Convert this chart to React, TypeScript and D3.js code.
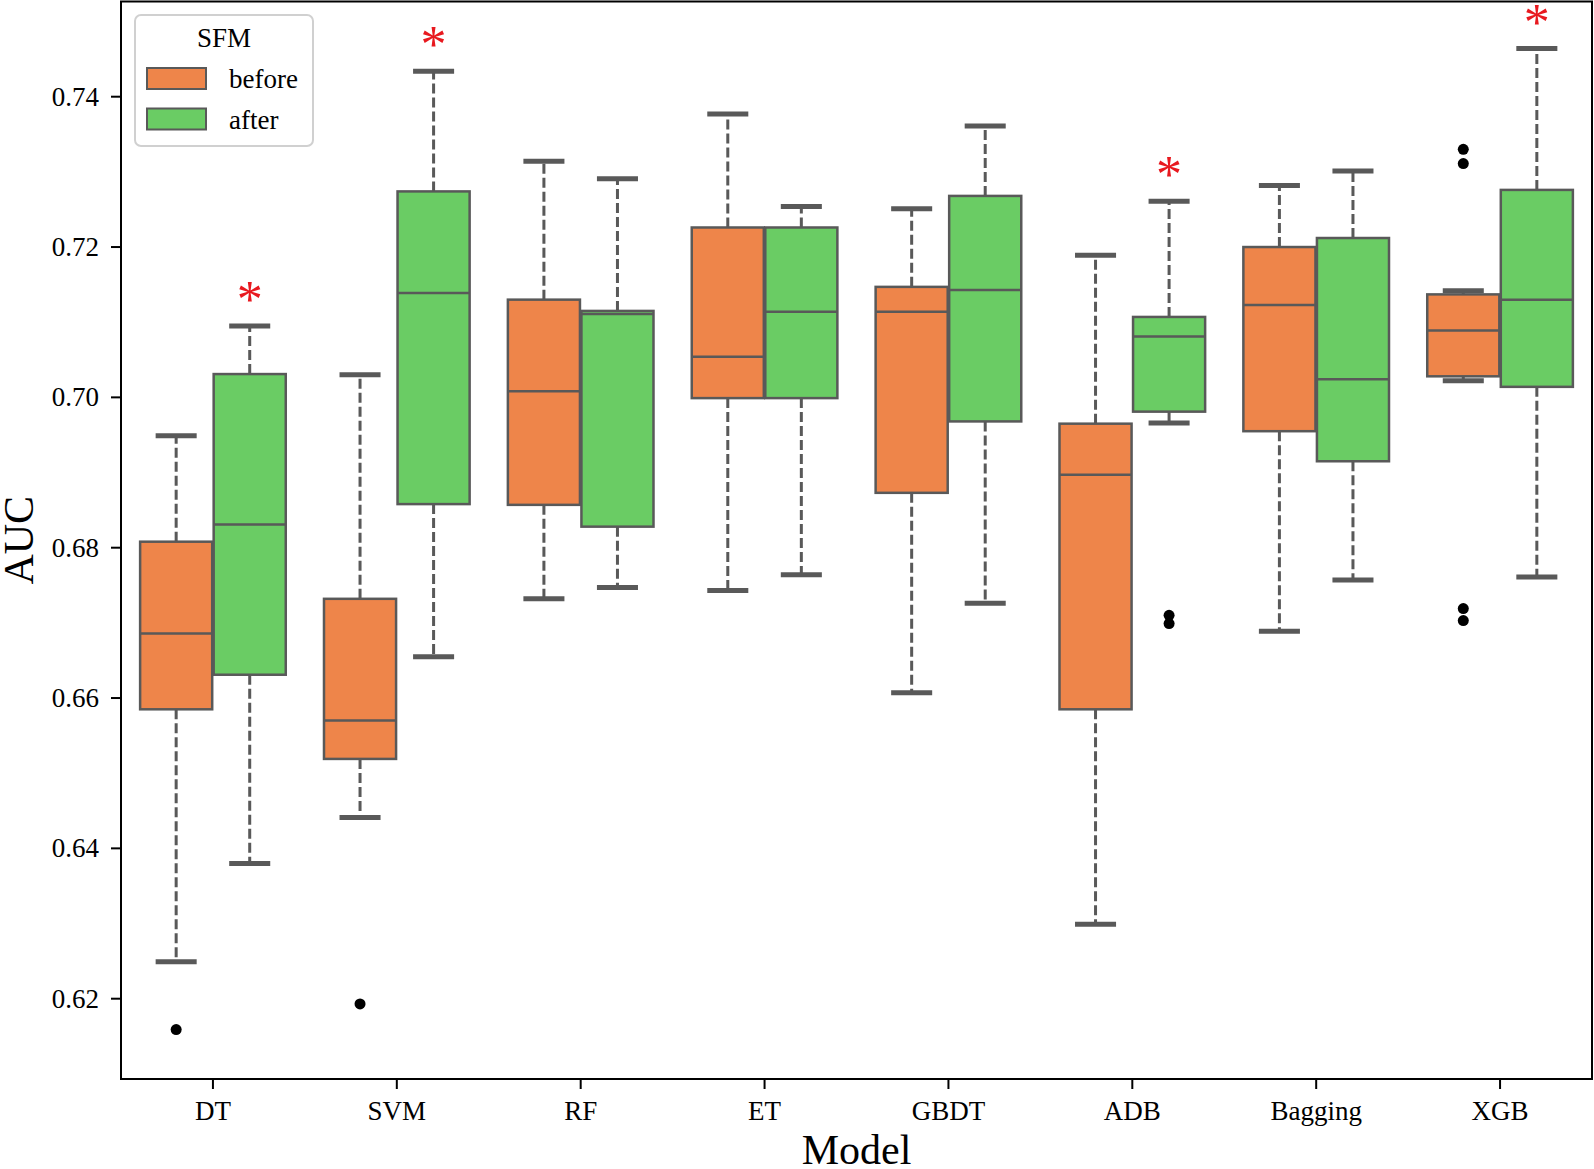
import React from "react";
import * as d3 from "d3";

// models on the x axis
const models = ["DT", "SVM", "RF", "ET", "GBDT", "ADB", "Bagging", "XGB"];
const hues = ["before", "after"];

// box statistics for SFM "before"
const beforeLow = [0.6249, 0.6441, 0.6732, 0.6743, 0.6607, 0.6299, 0.6689, 0.7022];
const beforeQ1 = [0.6585, 0.6519, 0.6857, 0.6999, 0.6873, 0.6585, 0.6955, 0.7028];
const beforeMed = [0.6686, 0.6570, 0.7008, 0.7054, 0.7114, 0.6897, 0.7123, 0.7089];
const beforeQ3 = [0.6808, 0.6732, 0.7130, 0.7226, 0.7147, 0.6965, 0.7200, 0.7137];
const beforeHigh = [0.6949, 0.7030, 0.7314, 0.7377, 0.7251, 0.7189, 0.7282, 0.7142];

// box statistics for SFM "after"
const afterLow = [0.6380, 0.6655, 0.6747, 0.6764, 0.6726, 0.6966, 0.6757, 0.6761];
const afterQ1 = [0.6631, 0.6858, 0.6828, 0.6999, 0.6968, 0.6981, 0.6915, 0.7014];
const afterMed = [0.6831, 0.7139, 0.7111, 0.7114, 0.7143, 0.7081, 0.7024, 0.7130];
const afterQ3 = [0.7031, 0.7274, 0.7115, 0.7226, 0.7268, 0.7107, 0.7212, 0.7276];
const afterHigh = [0.7095, 0.7434, 0.7291, 0.7254, 0.7361, 0.7261, 0.7301, 0.7464];

// fliers: [model, hue, value]
const outliers: [string, string, number][] = [
  ["DT", "before", 0.6159],
  ["SVM", "before", 0.6193],
  ["ADB", "after", 0.6710],
  ["ADB", "after", 0.6699],
  ["XGB", "before", 0.7330],
  ["XGB", "before", 0.7311],
  ["XGB", "before", 0.6719],
  ["XGB", "before", 0.6703],
];

// significance markers (drawn over the "after" box)
const starred = ["DT", "SVM", "ADB", "XGB"];

const yTicks = [0.62, 0.64, 0.66, 0.68, 0.7, 0.72, 0.74];

const colors: Record<string, string> = { before: "#ee854a", after: "#6acc64" };
const edge = "#595959";
const font = "'Liberation Serif', 'Times New Roman', serif";

const W = 1594;
const H = 1169;
const left = 121;
const right = 1592;
const top = 1.5;
const bottom = 1079;

export default function App() {
  const x = d3.scaleBand().domain(models).range([left, right]).padding(0);
  const y = d3.scaleLinear().domain([0.62, 0.74]).range([998.7, 96.7]);
  const hueX = d3.scaleBand().domain(hues).range([0, x.bandwidth() * 0.8]);
  const boxW = hueX.bandwidth() * 0.98;
  const capW = boxW / 2;

  const boxes = models.flatMap((m, i) => [
    { m, hue: "before", low: beforeLow[i], q1: beforeQ1[i], med: beforeMed[i], q3: beforeQ3[i], high: beforeHigh[i] },
    { m, hue: "after", low: afterLow[i], q1: afterQ1[i], med: afterMed[i], q3: afterQ3[i], high: afterHigh[i] },
  ]);

  const cx = (m: string, hue: string) =>
    (x(m) as number) + x.bandwidth() * 0.1 + (hueX(hue) as number) + hueX.bandwidth() / 2;

  return (
    <svg width={W} height={H} style={{ position: "absolute", left: 0, top: 0, background: "#fff" }}>
      {/* boxes */}
      {boxes.map((b, k) => {
        const c = cx(b.m, b.hue);
        return (
          <g key={k}>
            <line x1={c} x2={c} y1={y(b.q3)} y2={y(b.high)} stroke={edge} strokeWidth={3} strokeDasharray="10,4" />
            <line x1={c} x2={c} y1={y(b.q1)} y2={y(b.low)} stroke={edge} strokeWidth={3} strokeDasharray="10,4" />
            <line x1={c - capW / 2} x2={c + capW / 2} y1={y(b.high)} y2={y(b.high)} stroke={edge} strokeWidth={5} strokeLinecap="square" />
            <line x1={c - capW / 2} x2={c + capW / 2} y1={y(b.low)} y2={y(b.low)} stroke={edge} strokeWidth={5} strokeLinecap="square" />
            <rect x={c - boxW / 2} y={y(b.q3)} width={boxW} height={y(b.q1) - y(b.q3)} fill={colors[b.hue]} stroke={edge} strokeWidth={2.5} />
            <line x1={c - boxW / 2} x2={c + boxW / 2} y1={y(b.med)} y2={y(b.med)} stroke={edge} strokeWidth={2.5} />
          </g>
        );
      })}

      {/* fliers */}
      {outliers.map(([m, hue, v], k) => (
        <circle key={k} cx={cx(m, hue)} cy={y(v)} r={5.5} fill="#000" />
      ))}

      {/* stars */}
      {starred.map((m) => {
        const i = models.indexOf(m);
        return (
          <text key={m} x={cx(m, "after")} y={y(afterHigh[i]) - 9} fill="#e8191f" fontFamily={font} fontSize={52} textAnchor="middle">
            *
          </text>
        );
      })}

      {/* frame */}
      <rect x={left} y={top} width={right - left} height={bottom - top} fill="none" stroke="#000" strokeWidth={2} />

      {/* y axis */}
      {yTicks.map((t) => (
        <g key={t}>
          <line x1={left - 10} x2={left} y1={y(t)} y2={y(t)} stroke="#000" strokeWidth={2} />
          <text x={left - 22} y={y(t)} dy="0.33em" textAnchor="end" fontFamily={font} fontSize={27} fill="#000">
            {t.toFixed(2)}
          </text>
        </g>
      ))}
      <text transform={`translate(33,${(top + bottom) / 2}) rotate(-90)`} textAnchor="middle" fontFamily={font} fontSize={42} fill="#000">
        AUC
      </text>

      {/* x axis */}
      {models.map((m) => {
        const c = (x(m) as number) + x.bandwidth() / 2;
        return (
          <g key={m}>
            <line x1={c} x2={c} y1={bottom} y2={bottom + 10} stroke="#000" strokeWidth={2} />
            <text x={c} y={1120} textAnchor="middle" fontFamily={font} fontSize={27} fill="#000">
              {m}
            </text>
          </g>
        );
      })}
      <text x={(left + right) / 2} y={1164} textAnchor="middle" fontFamily={font} fontSize={42} fill="#000">
        Model
      </text>

      {/* legend */}
      <g>
        <rect x={135} y={15} width={178} height={131} rx={6} fill="#fff" stroke="#d0d0d0" strokeWidth={2} />
        <text x={224} y={47} textAnchor="middle" fontFamily={font} fontSize={27} fill="#000">
          SFM
        </text>
        {hues.map((h, i) => (
          <g key={h}>
            <rect x={147} y={68 + i * 40.5} width={59} height={21} fill={colors[h]} stroke={edge} strokeWidth={2} />
            <text x={229} y={88 + i * 40.5} fontFamily={font} fontSize={27} fill="#000">
              {h}
            </text>
          </g>
        ))}
      </g>
    </svg>
  );
}
